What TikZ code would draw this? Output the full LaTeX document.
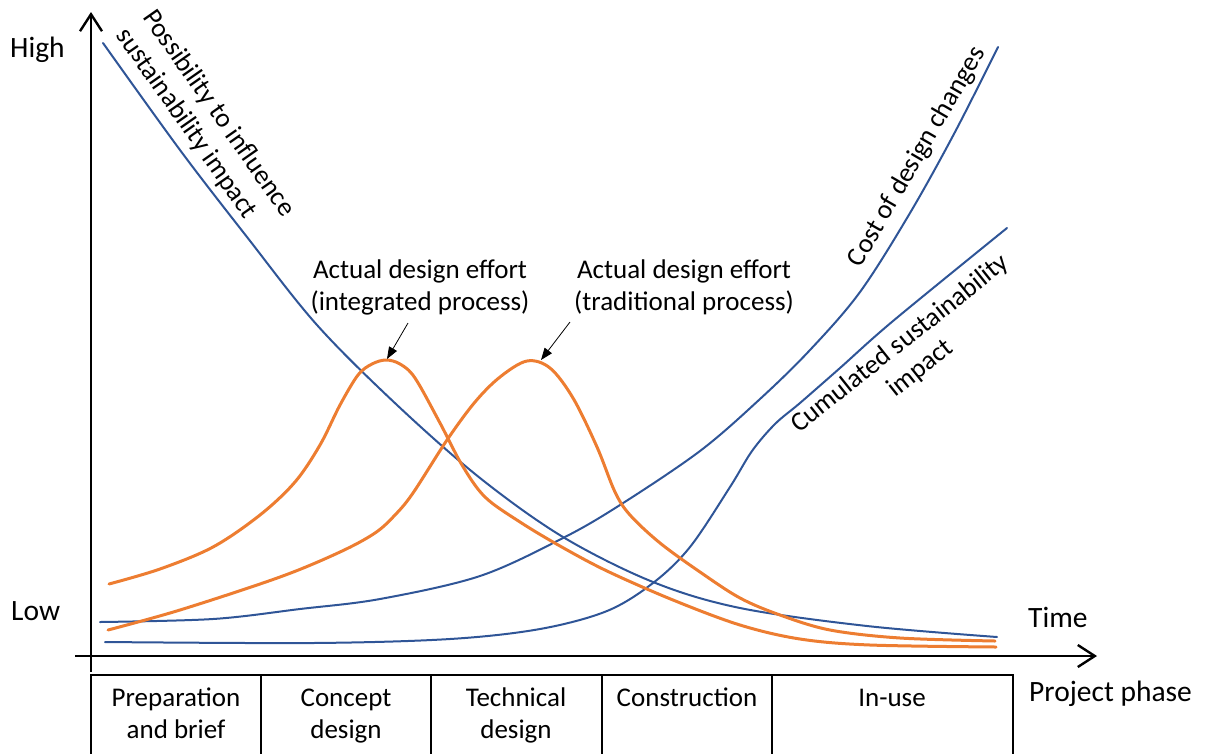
\documentclass[tikz,border=0pt]{standalone}
\usepackage{fontspec}
\setmainfont{Carlito}
\usetikzlibrary{arrows.meta}
\definecolor{cblue}{RGB}{47,85,151}
\definecolor{corange}{RGB}{237,125,49}
\begin{document}
\begin{tikzpicture}[x=1pt,y=-1pt,
  every node/.style={font=\fontsize{27}{32}\selectfont, inner sep=0pt},
  axislbl/.style={font=\fontsize{29.5}{34}\selectfont, anchor=base west},
  axisline/.style={line width=2.4pt, -{Straight Barb[length=17pt,width=22pt]}},
  boxline/.style={line width=2.4pt},
  bluecurve/.style={cblue, line width=2pt, line cap=round},
  orangecurve/.style={corange, line width=3pt, line cap=round},
  pointer/.style={line width=0.8pt, -{Triangle[length=12pt,width=9pt]}},
  lbl/.style={anchor=base}
]
\useasboundingbox (0,0) rectangle (1206,753);

% axes
\draw[axisline] (91,672) -- (91,12);
\draw[axisline] (75,656) -- (1097,656);

% phase boxes
\draw[boxline] (91,775) -- (91,675) -- (1013,675) -- (1013,775);
\foreach \xx in {261,431,602,772} \draw[boxline] (\xx,675) -- (\xx,775);

% possibility to influence
\draw[bluecurve] plot[smooth, tension=0.55] coordinates {(103,43) (180,150) (247,237) (317,325) (397,405) (480,478) (563,537) (653,582) (740,608) (867,626) (997,637)};
% cost of design changes
\draw[bluecurve] plot[smooth, tension=0.55] coordinates {(100,622) (213,619) (300,609) (380,599) (480,576) (563,538) (620,505) (700,451) (760,399) (810,350) (860,292) (910,213) (955,132) (998,47)};
% cumulated sustainability impact
\draw[bluecurve] plot[smooth, tension=0.55] coordinates {(105,642) (313,643) (450,639) (540,629) (607,611) (653,583) (690,547) (730,487) (752,451) (775,424) (800,403) (840,368) (893,321) (1007,228)};
% integrated process
\draw[orangecurve] plot[smooth, tension=0.55] coordinates {(109,584) (160,569) (213,547) (260,515) (295,482) (320,445) (340,405) (358,375) (372,364) (386,360) (400,364) (415,378) (440,423) (462,465) (485,497) (520,522) (560,546) (607,571) (673,600) (740,625) (800,639) (870,645) (996,647)};
% traditional process
\draw[orangecurve] plot[smooth, tension=0.55] coordinates {(108,630) (180,610) (280,577) (340,552) (375,533) (395,515) (413,493) (447,440) (475,402) (500,377) (527,361) (550,368) (573,398) (597,447) (615,492) (630,515) (660,543) (700,572) (740,598) (780,615) (830,630) (900,638) (995,641)};

% axis labels
\node[axislbl] (high) at (10,57) {High};
\node[axislbl] (low) at (11,620) {Low};
\node[axislbl] (time) at (1028,627) {Time};
\node[axislbl] (projphase) at (1029,701) {Project phase};

% phase labels
\node[lbl] (ph1) at (176,706) {\begin{tabular}[t]{@{}c@{}}Preparation\\and brief\end{tabular}};
\node[lbl] (ph2) at (346,706) {\begin{tabular}[t]{@{}c@{}}Concept\\design\end{tabular}};
\node[lbl] (ph3) at (516,706) {\begin{tabular}[t]{@{}c@{}}Technical\\design\end{tabular}};
\node[lbl] (ph4) at (687,706) {Construction};
\node[lbl] (ph5) at (892,706) {In-use};

% curve labels
\node[anchor=base west, rotate=-55] (possib) at (142,17) {\begin{tabular}[t]{@{}l@{}}Possibility to influence\\sustainability impact\end{tabular}};
\node[rotate=60] (cost) at (917,157) {Cost of design changes};
\node[rotate=38.5] (cumul) at (911,357) {\begin{tabular}{@{}c@{}}Cumulated sustainability\\impact\end{tabular}};
\node[lbl] (integ) at (420,278) {\begin{tabular}[t]{@{}c@{}}Actual design effort\\(integrated process)\end{tabular}};
\node[lbl] (trad) at (684,278) {\begin{tabular}[t]{@{}c@{}}Actual design effort\\(traditional process)\end{tabular}};

% pointers
\coordinate (integstart) at (408,323);
\coordinate (integpeak) at (387,359);
\coordinate (tradstart) at (570,322);
\coordinate (tradpeak) at (541,360);
\draw[pointer] (integstart) -- (integpeak);
\draw[pointer] (tradstart) -- (tradpeak);
\end{tikzpicture}
\end{document}
